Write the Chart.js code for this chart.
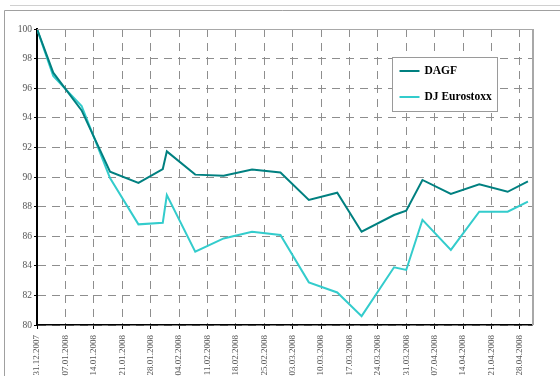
<!DOCTYPE html>
<html>
<head>
<meta charset="utf-8">
<script src="https://cdn.jsdelivr.net/npm/chart.js@4"></script>
<style>
  html, body { margin: 0; padding: 0; background: #fff; }
  #wrap { width: 560px; height: 376px; }
</style>
</head>
<body>
<div id="wrap"><canvas id="chart" width="560" height="376"></canvas></div>
<script>
// Kursdaten (Handelstage)
const dates = ["31.12.2007", "04.01.2008", "11.01.2008", "18.01.2008", "25.01.2008", "31.01.2008",
    "01.02.2008", "08.02.2008", "15.02.2008", "22.02.2008", "29.02.2008", "07.03.2008",
    "14.03.2008", "20.03.2008", "28.03.2008", "31.03.2008", "04.04.2008", "11.04.2008",
    "18.04.2008", "25.04.2008", "30.04.2008"];
const dagf = [100, 97.05, 94.5, 90.36, 89.6, 90.54, 91.73, 90.16, 90.09, 90.5, 90.3, 88.45,
    88.94, 86.3, 87.43, 87.72, 89.8, 88.85, 89.5, 89.0, 89.7];
const eurostoxx = [100, 96.82, 94.8, 89.93, 86.8, 86.91, 88.78, 84.95, 85.85, 86.3, 86.08, 82.88,
    82.2, 80.6, 83.9, 83.72, 87.1, 85.07, 87.66, 87.66, 88.33];
const tickDates = ["31.12.2007", "07.01.2008", "14.01.2008", "21.01.2008", "28.01.2008", "04.02.2008",
    "11.02.2008", "18.02.2008", "25.02.2008", "03.03.2008", "10.03.2008", "17.03.2008",
    "24.03.2008", "31.03.2008", "07.04.2008", "14.04.2008", "21.04.2008", "28.04.2008"];
const endDate = "01.05.2008";
const yTicks = [80, 82, 84, 86, 88, 90, 92, 94, 96, 98, 100];

// Tage seit 31.12.2007
function tag(s) {
    const p = s.split(".");
    return (Date.UTC(+p[2], +p[1] - 1, +p[0]) - Date.UTC(2007, 11, 31)) / 86400000;
}

const labelFuerTag = {};
tickDates.forEach(d => { labelFuerTag[tag(d)] = d; });

const serif = "'Liberation Serif', 'Times New Roman', serif";

const rahmen = {
    id: "rahmen",
    beforeDraw(chart) {
        const c = chart.ctx;
        c.save();
        c.fillStyle = "#fff";
        c.fillRect(0, 0, chart.width, chart.height);
        c.lineWidth = 1;
        c.strokeStyle = "#d0d0d0";
        c.beginPath(); c.moveTo(10, 5.5); c.lineTo(560, 5.5); c.stroke();
        c.strokeStyle = "#a0a0a0";
        c.beginPath(); c.moveTo(4.5, 376); c.lineTo(4.5, 10.5); c.lineTo(560, 10.5); c.stroke();
        c.restore();
    },
    afterDatasetsDraw(chart) {
        const c = chart.ctx;
        const a = chart.chartArea;
        c.save();
        c.strokeStyle = "#a8a8a8";
        c.lineWidth = 1;
        c.beginPath(); c.moveTo(a.left, a.top + 0.5); c.lineTo(a.right, a.top + 0.5); c.stroke();
        c.lineWidth = 2;
        c.beginPath(); c.moveTo(a.right + 1, a.top); c.lineTo(a.right + 1, a.bottom); c.stroke();

        // Legende
        const x = 392.5, y = 57.5, w = 105, h = 54;
        c.fillStyle = "#fff";
        c.fillRect(x, y, w, h);
        c.strokeStyle = "#9a9a9a";
        c.lineWidth = 1;
        c.strokeRect(x, y, w, h);
        c.font = "bold 11.5px " + serif;
        c.textBaseline = "middle";
        chart.data.datasets.forEach((ds, i) => {
            const ly = y + 13.5 + i * 26;
            c.strokeStyle = ds.borderColor;
            c.lineWidth = 2;
            c.beginPath(); c.moveTo(x + 7, ly); c.lineTo(x + 27, ly); c.stroke();
            c.fillStyle = "#000";
            c.fillText(ds.label, x + 32, ly);
        });
        c.restore();
    }
};

new Chart(document.getElementById("chart").getContext("2d"), {
    type: "line",
    data: {
        datasets: [{
            label: "DAGF",
            data: dates.map((d, i) => ({ x: tag(d), y: dagf[i] })),
            borderColor: "#008080",
            borderWidth: 2,
            pointRadius: 0,
            tension: 0
        }, {
            label: "DJ Eurostoxx",
            data: dates.map((d, i) => ({ x: tag(d), y: eurostoxx[i] })),
            borderColor: "#33cccc",
            borderWidth: 2,
            pointRadius: 0,
            tension: 0
        }]
    },
    options: {
        responsive: false,
        animation: false,
        layout: { padding: { left: 0, top: 29, right: 28, bottom: 0 } },
        plugins: {
            legend: { display: false },
            tooltip: { enabled: false }
        },
        scales: {
            x: {
                type: "linear",
                min: 0,
                max: tag(endDate),
                afterBuildTicks: scale => {
                    scale.ticks = tickDates.map(d => ({ value: tag(d) }));
                },
                afterFit: scale => { scale.height = 51; },
                ticks: {
                    autoSkip: false,
                    minRotation: 90,
                    maxRotation: 90,
                    padding: 6,
                    color: "#555",
                    font: { family: serif, size: 9 },
                    callback: v => labelFuerTag[v] || ""
                },
                grid: {
                    color: "#8e8e8e",
                    lineWidth: 1,
                    tickLength: 4,
                    tickColor: "#000"
                },
                border: { color: "#000", width: 1.5, dash: [8, 6] }
            },
            y: {
                min: 80,
                max: 100,
                afterBuildTicks: scale => {
                    scale.ticks = yTicks.map(v => ({ value: v }));
                },
                afterFit: scale => { scale.width = 37; },
                ticks: {
                    padding: 2,
                    color: "#555",
                    font: { family: serif, size: 9.5 }
                },
                grid: {
                    color: "#8e8e8e",
                    lineWidth: 1,
                    tickLength: 3,
                    tickColor: "#000"
                },
                border: { color: "#000", width: 2, dash: [8, 6] }
            }
        }
    },
    plugins: [rahmen]
});
</script>
</body>
</html>
